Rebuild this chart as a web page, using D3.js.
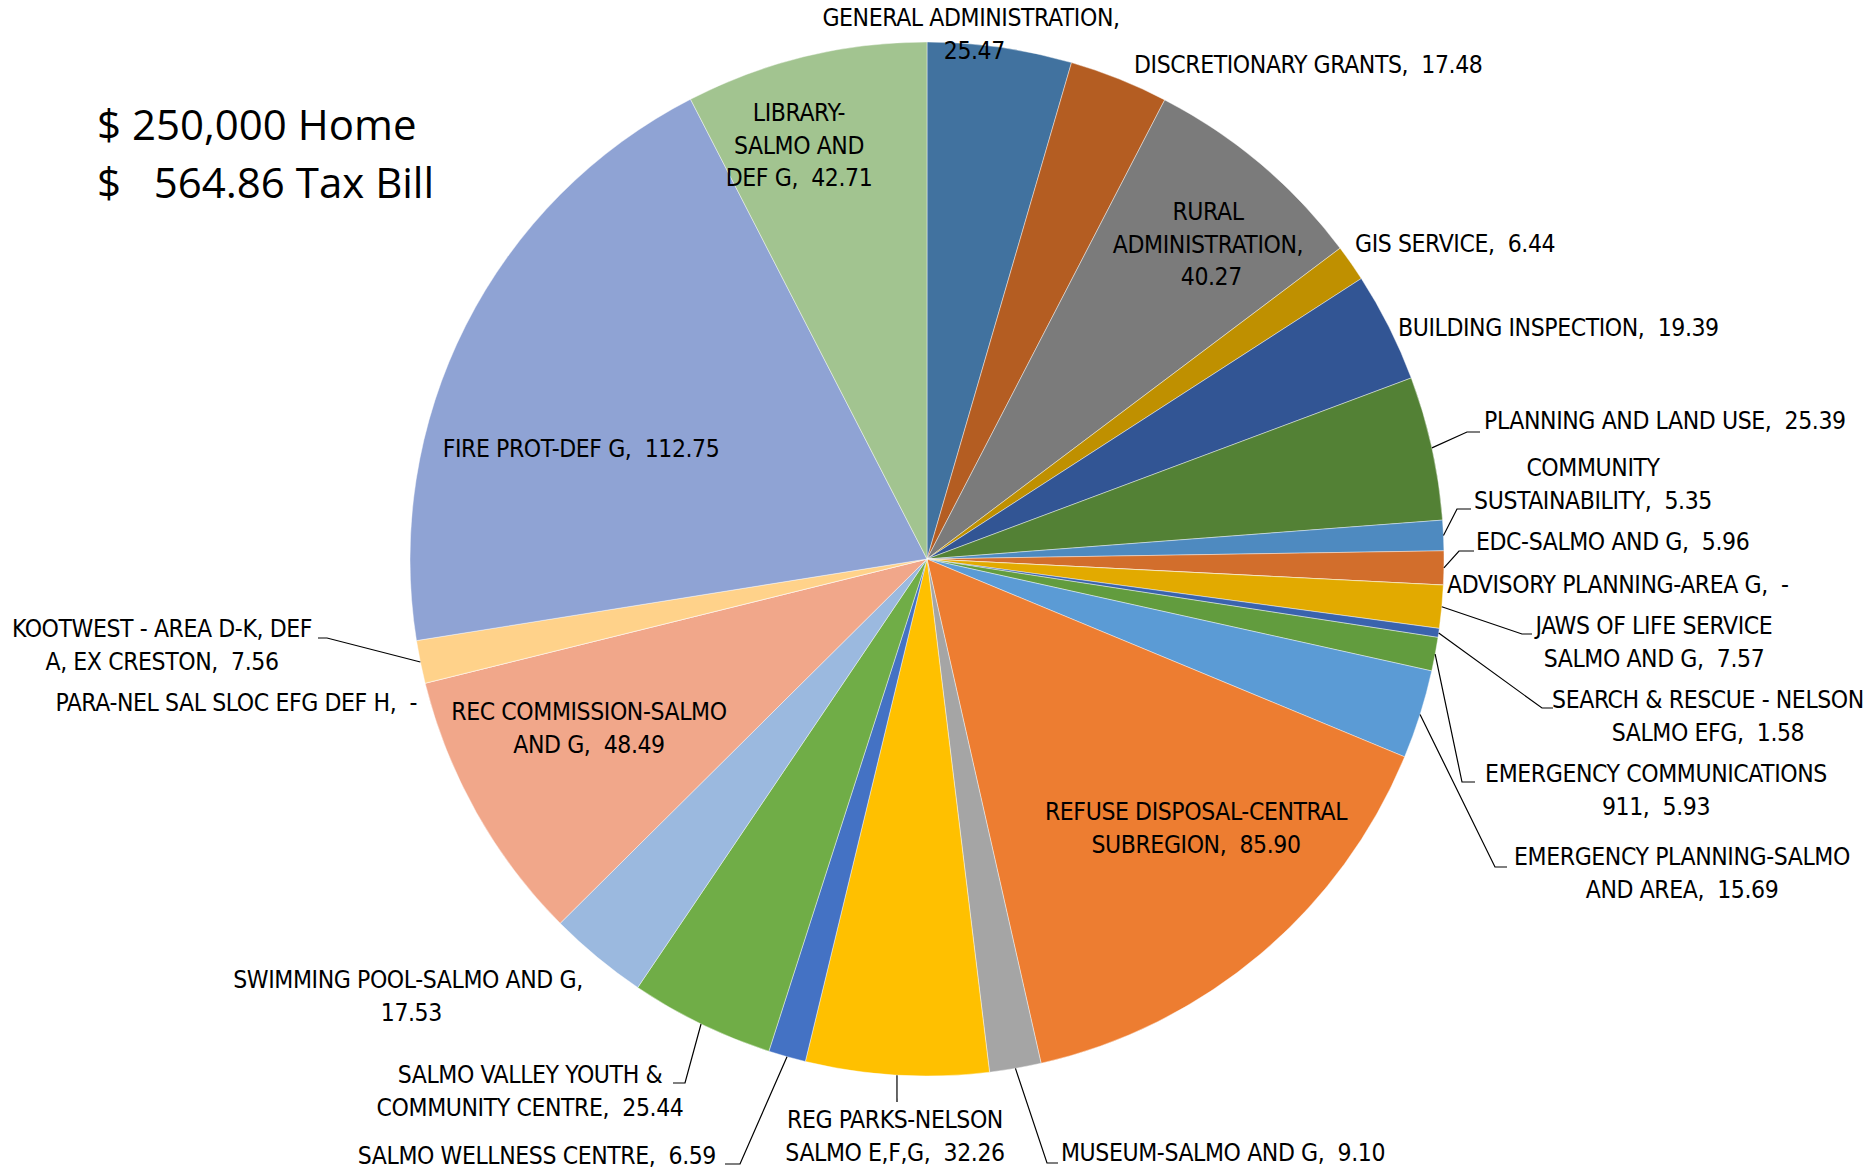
<!DOCTYPE html>
<html>
<head>
<meta charset="utf-8">
<script src="https://cdn.jsdelivr.net/npm/d3@7"></script>
<style>
  body { margin: 0; background: #fff; }
  svg text { font-family: "Liberation Sans Narrow", "DejaVu Sans Condensed", sans-serif; fill: #000; }
  .title { font-family: "Open Sans", "Noto Sans", sans-serif; }
</style>
</head>
<body>
<svg id="chart" width="1873" height="1169"></svg>
<script>
const categories = [
  "GENERAL ADMINISTRATION", "DISCRETIONARY GRANTS", "RURAL ADMINISTRATION", "GIS SERVICE",
  "BUILDING INSPECTION", "PLANNING AND LAND USE", "COMMUNITY SUSTAINABILITY", "EDC-SALMO AND G",
  "ADVISORY PLANNING-AREA G", "JAWS OF LIFE SERVICE SALMO AND G", "SEARCH & RESCUE - NELSON SALMO EFG",
  "EMERGENCY COMMUNICATIONS 911", "EMERGENCY PLANNING-SALMO AND AREA", "REFUSE DISPOSAL-CENTRAL SUBREGION",
  "MUSEUM-SALMO AND G", "REG PARKS-NELSON SALMO E,F,G", "SALMO WELLNESS CENTRE",
  "SALMO VALLEY YOUTH & COMMUNITY CENTRE", "SWIMMING POOL-SALMO AND G", "REC COMMISSION-SALMO AND G",
  "PARA-NEL SAL SLOC EFG DEF H", "KOOTWEST - AREA D-K, DEF A, EX CRESTON", "FIRE PROT-DEF G",
  "LIBRARY-SALMO AND DEF G"
];
const values = [
  25.47, 17.48, 40.27, 6.44, 19.39, 25.39, 5.35, 5.96, 0, 7.57, 1.58, 5.93,
  15.69, 85.90, 9.10, 32.26, 6.59, 25.44, 17.53, 48.49, 0, 7.56, 112.75, 42.71
];
const colors = [
  "#41729f", "#b45d22", "#7b7b7b", "#bf9000", "#325594", "#538135", "#4e8ac0", "#d26e2c",
  "#999999", "#e2aa00", "#3a63ad", "#629c3e", "#5b9bd5", "#ed7d31", "#a5a5a5", "#ffc000",
  "#4472c4", "#70ad47", "#9bb9df", "#f1a78a", "#c9c9c9", "#ffd28a", "#8fa3d4", "#a2c490"
];
const titleLines = ["$ 250,000 Home", "$\u00a0\u00a0\u00a0564.86 Tax Bill"];

// label placement (wrapped lines, anchor, first baseline, optional leader elbow + end)
const labelLayout = [
  { lines: ["GENERAL ADMINISTRATION,", "{v}"], anchor: "middle", x: 971, y: 26 },
  { lines: ["DISCRETIONARY GRANTS, {v}"], anchor: "start", x: 1134, y: 73 },
  { lines: ["RURAL", "ADMINISTRATION,", "{v}"], anchor: "middle", x: 1208, y: 220 },
  { lines: ["GIS SERVICE, {v}"], anchor: "start", x: 1355, y: 252 },
  { lines: ["BUILDING INSPECTION, {v}"], anchor: "start", x: 1398, y: 336 },
  { lines: ["PLANNING AND LAND USE, {v}"], anchor: "start", x: 1484, y: 429, elbow: [1467, 432], end: 1480 },
  { lines: ["COMMUNITY", "SUSTAINABILITY, {v}"], anchor: "middle", x: 1593, y: 476, elbow: [1457, 509], end: 1471 },
  { lines: ["EDC-SALMO AND G, {v}"], anchor: "start", x: 1476, y: 550, elbow: [1459, 551], end: 1474 },
  { lines: ["ADVISORY PLANNING-AREA G, {v}"], anchor: "start", x: 1447, y: 593 },
  { lines: ["JAWS OF LIFE SERVICE", "SALMO AND G, {v}"], anchor: "middle", x: 1654, y: 634, elbow: [1522, 634], end: 1532 },
  { lines: ["SEARCH & RESCUE - NELSON", "SALMO EFG, {v}"], anchor: "middle", x: 1708, y: 708, elbow: [1542, 708], end: 1553 },
  { lines: ["EMERGENCY COMMUNICATIONS", "911, {v}"], anchor: "middle", x: 1656, y: 782, elbow: [1462, 782], end: 1475 },
  { lines: ["EMERGENCY PLANNING-SALMO", "AND AREA, {v}"], anchor: "middle", x: 1682, y: 865, elbow: [1495, 867], end: 1507 },
  { lines: ["REFUSE DISPOSAL-CENTRAL", "SUBREGION, {v}"], anchor: "middle", x: 1196, y: 820 },
  { lines: ["MUSEUM-SALMO AND G, {v}"], anchor: "start", x: 1061, y: 1161, elbow: [1047, 1163], end: 1058 },
  { lines: ["REG PARKS-NELSON", "SALMO E,F,G, {v}"], anchor: "middle", x: 895, y: 1128, elbow: [897, 1102] },
  { lines: ["SALMO WELLNESS CENTRE, {v}"], anchor: "end", x: 716, y: 1164, elbow: [740, 1164], end: 725 },
  { lines: ["SALMO VALLEY YOUTH &", "COMMUNITY CENTRE, {v}"], anchor: "middle", x: 530, y: 1083, elbow: [685, 1083], end: 673 },
  { lines: ["SWIMMING POOL-SALMO AND G,", "{v}"], anchor: "middle", x: 408, y: 988 },
  { lines: ["REC COMMISSION-SALMO", "AND G, {v}"], anchor: "middle", x: 589, y: 720 },
  { lines: ["PARA-NEL SAL SLOC EFG DEF H, {v}"], anchor: "end", x: 417, y: 711 },
  { lines: ["KOOTWEST - AREA D-K, DEF", "A, EX CRESTON, {v}"], anchor: "middle", x: 162, y: 637, elbow: [327, 638], end: 318 },
  { lines: ["FIRE PROT-DEF G, {v}"], anchor: "middle", x: 581, y: 457 },
  { lines: ["LIBRARY-", "SALMO AND", "DEF G, {v}"], anchor: "middle", x: 799, y: 121 }
];

const cx = 927, cy = 559, radius = 517, lineH = 32.5;

const svg = d3.select("#chart");

const fmt = v => v === 0 ? "-" : d3.format(".2f")(v);

const pie = d3.pie().sort(null).value(d => d.value);
const arcs = pie(categories.map((name, i) => ({ name, value: values[i], color: colors[i], i })));
const arc = d3.arc().innerRadius(0).outerRadius(radius);

const g = svg.append("g").attr("transform", `translate(${cx},${cy})`);

g.selectAll("path.slice")
  .data(arcs)
  .enter()
  .append("path")
  .attr("class", "slice")
  .attr("d", arc)
  .attr("fill", d => d.data.color)
  .attr("stroke", "#fff")
  .attr("stroke-width", 0.6)
  .attr("stroke-opacity", 0.7);

// leader lines
arcs.forEach((d, i) => {
  const lay = labelLayout[i];
  if (!lay.elbow) return;
  const mid = (d.startAngle + d.endAngle) / 2;
  const sx = cx + radius * Math.sin(mid);
  const sy = cy - radius * Math.cos(mid);
  const pts = [[sx, sy], lay.elbow];
  if (lay.end !== undefined) pts.push([lay.end, lay.elbow[1]]);
  svg.append("path")
    .attr("d", d3.line()(pts))
    .attr("fill", "none")
    .attr("stroke", "#000")
    .attr("stroke-width", 1.2);
});

// data labels
arcs.forEach((d, i) => {
  const lay = labelLayout[i];
  const t = svg.append("text")
    .attr("text-anchor", lay.anchor)
    .attr("font-size", 24.5)
    .attr("letter-spacing", -0.4);
  lay.lines.forEach((ln, k) => {
    t.append("tspan")
      .attr("x", lay.x)
      .attr("y", lay.y + k * lineH)
      .text(ln.replace("{v}", "\u00a0" + fmt(d.data.value)));
  });
});

// title block
titleLines.forEach((ln, k) => {
  svg.append("text")
    .attr("class", "title")
    .attr("x", 97)
    .attr("y", 140 + k * 58)
    .attr("font-size", 42)
    .text(ln);
});
</script>
</body>
</html>
